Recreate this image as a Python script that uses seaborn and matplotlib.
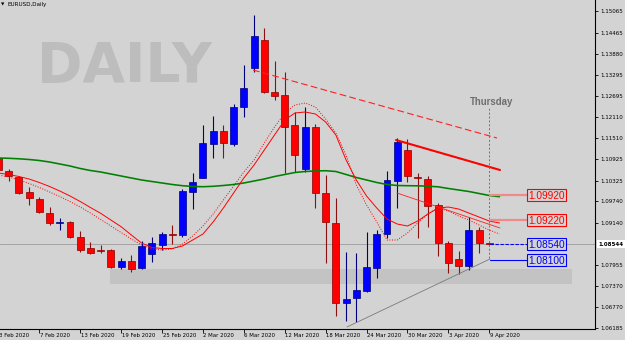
import numpy as np
import pandas as pd
import matplotlib
matplotlib.use("Agg")
import matplotlib.pyplot as plt
from matplotlib.patches import Rectangle
import seaborn as sns

# ---------------- data ----------------
date_labels = ["3 Feb 2020", "7 Feb 2020", "13 Feb 2020", "19 Feb 2020", "25 Feb 2020",
               "2 Mar 2020", "6 Mar 2020", "12 Mar 2020", "18 Mar 2020", "24 Mar 2020",
               "30 Mar 2020", "3 Apr 2020", "9 Apr 2020"]
date_bars = [0, 4, 8, 12, 16, 20, 24, 28, 32, 36, 40, 44, 48]

opens = [1.10956, 1.10592, 1.10432, 1.10012, 1.09807, 1.09424, 1.09135, 1.09163, 1.08735, 1.08426,
         1.08373, 1.08379, 1.07911, 1.08071, 1.07866, 1.08258, 1.08519, 1.08827, 1.08799, 1.10012,
         1.10404, 1.11340, 1.11721, 1.11340, 1.12393, 1.13469, 1.14261, 1.12805, 1.12721, 1.11880,
         1.10648, 1.11833, 1.09984, 1.09144, 1.06903, 1.07026, 1.07239, 1.07866, 1.08827, 1.10312,
         1.11180, 1.10410, 1.10359, 1.09639, 1.08566, 1.08118, 1.07939, 1.08939, 1.08560]
highs = [1.11040, 1.10648, 1.10460, 1.10144, 1.09863, 1.09583, 1.09275, 1.09200, 1.08911, 1.08611,
         1.08519, 1.08407, 1.08155, 1.08239, 1.08639, 1.08743, 1.08891, 1.09079, 1.10079, 1.10544,
         1.11880, 1.12132, 1.11880, 1.12469, 1.13561, 1.14962, 1.14589, 1.13673, 1.13373, 1.12253,
         1.12393, 1.11908, 1.10480, 1.09827, 1.08331, 1.08303, 1.08891, 1.08939, 1.10592, 1.11508,
         1.11480, 1.10544, 1.10460, 1.09704, 1.08639, 1.08359, 1.09303, 1.09031, 1.08583]
lows = [1.10564, 1.10312, 1.09948, 1.09639, 1.09415, 1.09079, 1.08939, 1.08715, 1.08331, 1.08258,
        1.08286, 1.07875, 1.07847, 1.07771, 1.07838, 1.08051, 1.08379, 1.08547, 1.08735, 1.09519,
        1.10396, 1.10947, 1.10964, 1.11292, 1.12113, 1.13373, 1.12768, 1.12581, 1.10527, 1.10555,
        1.10572, 1.09547, 1.08023, 1.06538, 1.06390, 1.06370, 1.07211, 1.07586, 1.08707, 1.09547,
        1.10292, 1.08715, 1.09023, 1.08211, 1.07726, 1.07698, 1.07818, 1.08286, 1.08519]
closes = [1.10620, 1.10452, 1.09984, 1.09827, 1.09452, 1.09127, 1.09150, 1.08735, 1.08379, 1.08303,
          1.08356, 1.07911, 1.08079, 1.07838, 1.08491, 1.08566, 1.08819, 1.08810, 1.10032, 1.10292,
          1.11368, 1.11721, 1.11368, 1.12376, 1.12908, 1.14374, 1.12813, 1.12701, 1.11833, 1.11040,
          1.11833, 1.09984, 1.09163, 1.06903, 1.06998, 1.07258, 1.07911, 1.08827, 1.10340, 1.11404,
          1.10460, 1.10396, 1.09620, 1.08566, 1.08023, 1.07939, 1.08939, 1.08566, 1.08544]

ma_green = [1.10956, 1.10948, 1.10934, 1.10914, 1.10886, 1.10844, 1.10788, 1.10732, 1.10662, 1.10606,
            1.10564, 1.10508, 1.10452, 1.10396, 1.10340, 1.10298, 1.10256, 1.10214, 1.10180, 1.10158,
            1.10152, 1.10163, 1.10186, 1.10214, 1.10256, 1.10312, 1.10368, 1.10438, 1.10494, 1.10550,
            1.10578, 1.10592, 1.10600, 1.10578, 1.10494, 1.10410, 1.10340, 1.10270, 1.10214, 1.10186,
            1.10180, 1.10177, 1.10166, 1.10149, 1.10102, 1.10060, 1.10018, 1.09962, 1.09906, 1.09872]
ma_red_solid = [1.10536, 1.10494, 1.10438, 1.10368, 1.10270, 1.10158, 1.10032, 1.09892, 1.09737, 1.09569,
                1.09407, 1.09219, 1.09031, 1.08799, 1.08575, 1.08449, 1.08421, 1.08421, 1.08491, 1.08659,
                1.08827, 1.09163, 1.09555, 1.09976, 1.10396, 1.10760, 1.11180, 1.11600, 1.12020, 1.12217,
                1.12245, 1.12189, 1.11964, 1.11600, 1.10900, 1.10340, 1.09892, 1.09555, 1.09247, 1.09107,
                1.09051, 1.09191, 1.09387, 1.09555, 1.09583, 1.09527, 1.09415, 1.09303, 1.09191, 1.09135]
ma_red_dotted = [1.10480, 1.10424, 1.10340, 1.10242, 1.10130, 1.10004, 1.09877, 1.09737, 1.09583, 1.09415,
                 1.09233, 1.09051, 1.08869, 1.08687, 1.08519, 1.08407, 1.08379, 1.08407, 1.08547, 1.08771,
                 1.09051, 1.09387, 1.09779, 1.10172, 1.10564, 1.10900, 1.11376, 1.11824, 1.12217, 1.12441,
                 1.12497, 1.12385, 1.12049, 1.11656, 1.11040, 1.10200, 1.09639, 1.09163, 1.08659, 1.08659,
                 1.08855, 1.09135, 1.09387, 1.09555, 1.09471, 1.09331, 1.09219, 1.09079, 1.08939, 1.08827]

ytick_values = [1.15065, 1.14465, 1.13880, 1.13295, 1.12695, 1.12110, 1.11510, 1.10925, 1.10325,
                1.09740, 1.09140, 1.07955, 1.07370, 1.06770, 1.06185]
ytick_labels = ["1.15065", "1.14465", "1.13880", "1.13295", "1.12695", "1.12110", "1.11510", "1.10925",
                "1.10325", "1.09740", "1.09140", "1.07955", "1.07370", "1.06770", "1.06185"]
current_price = 1.08544
current_label = "1.08544"

level_values = [1.09920, 1.09220, 1.08540, 1.08100]
level_labels = ["1.09920", "1.09220", "1.08540", "1.08100"]
level_colors = ["#ff0000", "#ff0000", "#0000ff", "#0000ff"]

upper_dash_x, upper_dash_y = [24.9, 48.75], [1.13421, 1.11516]
thick_x, thick_y = [38.88, 49.05], [1.11460, 1.10620]
thin_x, thin_y = [38.98, 49.05], [1.09976, 1.08995]
support_x, support_y = [34.09, 48.07], [1.06222, 1.08127]
band_x, band_low, band_high = [10.91, 56.09], 1.07426, 1.07847
thursday_bar, thursday_top, thursday_bottom = 48.0, 1.12385, 1.08155

# ---------------- style ----------------
BG = "#d3d3d3"
sns.set_theme(style="white", rc={"axes.facecolor": BG, "figure.facecolor": BG})
plt.rcParams["font.family"] = ["DejaVu Sans"]

fig = plt.figure(figsize=(6.25, 3.4), dpi=100)
ax = fig.add_axes([0, 11.5 / 340, 595 / 625, 328.5 / 340])
ax.set_xlim(0.156, 58.34)
ax.set_ylim(1.06180, 1.15382)

# watermark
ax.text(37 / 595, (328.5 - 82) / 328.5, "DAILY", transform=ax.transAxes, fontsize=39.5,
        fontweight="bold", color="#bdbdbd", ha="left", va="baseline", zorder=0.5)

# support band
ax.add_patch(Rectangle((band_x[0], band_low), band_x[1] - band_x[0], band_high - band_low,
                       facecolor="#c3c3c3", edgecolor="none", zorder=1))
# current price line
ax.axhline(current_price, color="#a3a3a3", lw=0.7, zorder=1.2)

# candles
n = len(opens)
xb = np.arange(n)
o = np.array(opens); c = np.array(closes); h = np.array(highs); l = np.array(lows)
bull = c > o
min_h = 0.0003
body_h = np.maximum(np.abs(c - o), min_h)
body_b = np.where(np.abs(c - o) < min_h, (o + c) / 2 - min_h / 2, np.minimum(o, c))
body_col = np.where(bull, "#0000ff", "#ff0000")
edge_col = np.where(bull, "#00007a", "#8a0000")
wick_col = np.where(bull, "#000080", "#8b1010")
ax.vlines(xb, l, h, colors=wick_col, lw=0.8, zorder=3)
ax.bar(xb, body_h, bottom=body_b, width=0.68, color=body_col, edgecolor=edge_col,
       linewidth=0.5, zorder=3.5)

# moving averages
ma_df = pd.DataFrame({"bar": np.arange(len(ma_green)), "green": ma_green,
                      "solid": ma_red_solid, "dotted": ma_red_dotted})
sns.lineplot(data=ma_df, x="bar", y="green", ax=ax, color="#008000", lw=1.15, zorder=5)
sns.lineplot(data=ma_df, x="bar", y="solid", ax=ax, color="#ff0000", lw=0.7, zorder=5)
sns.lineplot(data=ma_df, x="bar", y="dotted", ax=ax, color="#ff0000", lw=0.7,
             linestyle=(0, (1, 1.6)), zorder=5)

# trend lines
sns.lineplot(x=upper_dash_x, y=upper_dash_y, ax=ax, color="#ff2020", lw=0.8,
             linestyle=(0, (6, 3)), zorder=6)
sns.lineplot(x=thick_x, y=thick_y, ax=ax, color="#ff0000", lw=1.5, zorder=6)
sns.lineplot(x=thin_x, y=thin_y, ax=ax, color="#ff2020", lw=0.6, zorder=6)
sns.lineplot(x=support_x, y=support_y, ax=ax, color="#7a7a7a", lw=0.6, zorder=6)

# Thursday marker
ax.vlines(thursday_bar, thursday_bottom, thursday_top, colors="#707070", lw=0.7,
          linestyles=(0, (2, 2)), zorder=6)
ax.text(thursday_bar + 0.2, 1.12441, "Thursday", fontsize=6.9, fontweight="bold",
        family=["Liberation Sans", "DejaVu Sans"], color="#6e6e6e", ha="center",
        va="baseline", zorder=6)

# level labels on the right
conn_styles = [("-", 1.6, "#f08a8a"), ("-", 1.6, "#f08a8a"), ((0, (3, 1.5)), 0.8, "#0000ff"),
               ("-", 0.8, "#0000ff")]
half = 5.85 * 0.00028013
for val, lab, col, (ls, lw, ccol) in zip(level_values, level_labels, level_colors, conn_styles):
    ax.plot([48.07, 51.69], [val, val], color=ccol, lw=lw, linestyle=ls, zorder=6)
    ax.add_patch(Rectangle((51.69, val - half), 3.81, 2 * half, facecolor=BG,
                           edgecolor=col, lw=0.8, zorder=7))
    ax.text(53.6, val, lab, color=col, fontsize=7.3, family=["Liberation Sans"],
            ha="center", va="center_baseline", zorder=8)

# axes cosmetics
ax.set_xlabel("")
ax.set_ylabel("")
for s in ["top", "left"]:
    ax.spines[s].set_visible(False)
for s in ["right", "bottom"]:
    ax.spines[s].set_visible(True)
    ax.spines[s].set_color("black")
    ax.spines[s].set_linewidth(0.8)

ax.yaxis.tick_right()
ax.set_yticks(ytick_values)
ax.set_yticklabels(ytick_labels)
ax.tick_params(axis="y", length=2.5, width=0.6, pad=1.5, labelsize=4.0, colors="black",
               right=True, left=False)
ax.set_xticks(date_bars[1:])
ax.set_xticklabels([])
ax.tick_params(axis="x", length=3, width=0.6, bottom=True, colors="black")
for b, lab in zip(date_bars, date_labels):
    ax.annotate(lab, xy=(b, 0), xycoords=("data", "axes fraction"), xytext=(0.5, -7.2),
                textcoords="offset pixels", ha="left", va="center", fontsize=3.9,
                color="black", annotation_clip=False)

# current price label on axis
ax.annotate(current_label, xy=(1, current_price), xycoords=("axes fraction", "data"),
            xytext=(3, 0), textcoords="offset pixels", ha="left", va="center",
            fontsize=4.0, color="black", fontweight="bold",
            bbox=dict(boxstyle="square,pad=0.25", fc="white", ec="none"),
            annotation_clip=False)

# title
fig.text(0.6 / 625, 1 - 4.6 / 340, "\u25bc", fontsize=3.2, color="black", va="center", ha="left")
fig.text(7 / 625, 1 - 4.6 / 340, "EURUSD,Daily", fontsize=4.1, color="black", va="center", ha="left")

fig.savefig("out.png", dpi=100, facecolor=BG)
